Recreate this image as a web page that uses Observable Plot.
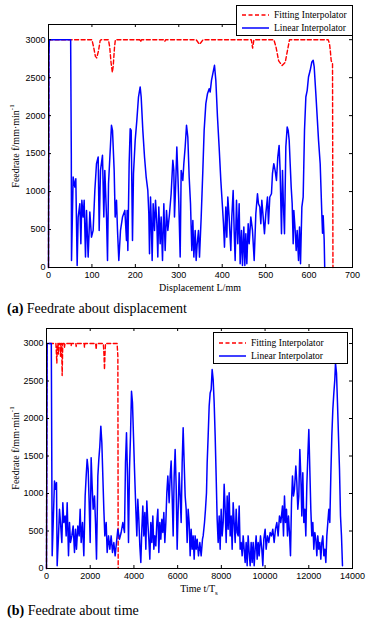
<!DOCTYPE html>
<html>
<head>
<meta charset="utf-8">
<script src="https://cdn.jsdelivr.net/npm/d3@7"></script>
<script src="https://cdn.jsdelivr.net/npm/@observablehq/plot@0.6"></script>
<style>
  html, body { margin: 0; padding: 0; background: #fff; }
  #root { position: relative; width: 368px; height: 622px; background: #fff; overflow: hidden; }
  .abs { position: absolute; }
  .serif { font-family: "Liberation Serif", "DejaVu Serif", serif; color: #000; }
  .ylab { font-size: 10px; white-space: nowrap; transform: translate(-50%, -50%) rotate(-90deg); }
  .xlab { font-size: 10px; white-space: nowrap; transform: translate(-50%, -50%); }
  .cap { font-size: 14px; white-space: nowrap; }
  .legend { background: #fff; border: 1px solid #000; box-sizing: border-box; font-size: 9.5px; }
  .legend .row { position: absolute; display: flex; align-items: center; white-space: nowrap; }
  .legend svg { display: block; margin-right: 5px; }
  sup, sub { font-size: 7px; line-height: 0; }
</style>
</head>
<body>
<div id="root"></div>
<script>
// ---------- data ----------
const yTicks = [0, 500, 1000, 1500, 2000, 2500, 3000];
const dispTicks = [0, 100, 200, 300, 400, 500, 600, 700];
const timeTicks = [0, 2000, 4000, 6000, 8000, 10000, 12000, 14000];
const seriesNames = ["Fitting Interpolator", "Linear Interpolator"];

// (a) feedrate vs displacement [mm, mm/min]
const fitDisp = [[0,0],[1,3000],[100,3000],[104,2900],[108,2780],[111,2760],[115,2850],[119,2990],[121,3000],[138,3000],[141,2900],[144,2700],[147,2570],[149,2650],[152,2900],[154,3000],[210,3000],[212,2970],[214,3000],[266,3000],[268,2980],[270,3000],[340,3000],[345,2960],[348,2940],[352,2970],[356,3000],[467,3000],[470,2890],[473,3000],[519,3000],[524,2900],[530,2720],[538,2660],[545,2700],[550,2850],[555,3000],[644,3000],[647,2950],[649,2850],[651,2720],[654,2690],[655,0]];

const linDisp = [[0,0],[1,2800],[2,3000],[51,3000],[52.5,1500],[53,92],
[56.8,1191],[60.6,1059],[62.9,1169],[66,27],[68.3,664],[72.2,840],[74.5,312],[76.8,884],[79.8,664],[82.1,884],[85.2,137],[87.5,752],[91.3,137],[95.2,730],[99,400],[102.8,488],[106.7,1015],[110.5,1367],[114.4,1455],[116.7,488],[119.7,1279],[124.3,1477],[127.4,664],[129.7,1279],[133.6,664],[135.9,93],[138.2,1103],[141.3,1455],[145,1872],[147.4,1806],[151.2,1279],[153.5,664],[156.6,884],[158.9,488],[161.9,93],[165.8,488],[170.4,664],[175.8,752],[179.6,356],
[181.1,752],[182.7,225],[185.7,1367],[188.1,1828],[190.4,1806],[193.4,356],[195.7,1235],[199.6,1674],[203.4,1938],[207.2,2245],[211.1,2377],[213.4,2245],[217.2,1806],[221.1,1455],[224.9,1191],[228.7,1015],[231,708],[232.6,181],[234.9,928],[236.4,664],[238.7,93],[241,840],[244.1,488],[246.4,884],[249.5,576],[251.7,137],[254,796],[257.1,312],[259.4,664],[262.5,93],[265.6,840],[268.6,225],[271.7,752],[274.8,488],[278.6,708],[282.4,971],[286.3,1411],[288.6,1279],[290.1,664],[292.4,1015],[295.5,1586],[297.8,1235],[300.1,840],[303.2,137],[305.5,1279],[309.3,1147],[311.6,1367],[314.7,1586],[317.8,1872],[320.8,1718],[323.9,1191],[327,840],[330,225],[332.4,620],[334.7,137],[337.8,488],[340,93],[342.4,312],[345.4,488],[347.7,137],[351.6,664],[355.4,1279],[358.4,1806],
[362.3,2158],[366.1,2289],[370,2355],[372.3,2311],[375.3,2465],[379.9,2597],[382.2,2663],[385.3,2465],[389.1,1982],[392.9,1586],[396.8,1147],[400.6,796],[402.9,576],[405.2,268],[408.3,796],[410.6,400],[412.9,928],[415.9,664],[419.8,225],[422.1,664],[425.2,1015],[427.5,488],[429.8,93],[432.9,884],[435.9,312],[439,840],[441.3,49],[444.4,488],[446.7,27],[449.8,532],[452.1,27],[454.4,444],[456.7,49],[459.8,576],[462.1,312],[465.9,664],[469.7,488],[473.6,93],[477.4,708],[481.2,971],[483.5,840],[486.6,796],[488.9,576],[491.2,884],[494.3,664],[497.3,444],[500.4,708],[504.2,928],[506.5,576],[509.6,928],[513.4,971],[515.7,1235],[518.8,1367],[521.8,1279],[524.9,1147],[528,1455],[531,1608],[533.3,1279],[536.5,444],[538.8,1279],[541.1,796],[543.4,444],[546.5,1586],[549.6,1850],[551.9,1806],[554.2,1674],[556.5,1367],[558.8,1059],[561.1,840],[563.4,312],[564.9,752],[568,488],[570.3,225],[572.6,488],[575.7,93],[578,532],[580.3,49],[583.4,796],[586.4,928],[589.5,1806],[592.6,2245],[595.7,2333],[598.7,2509],[602.6,2597],[606.4,2707],[609.5,2729],[611.8,2641],[615.6,2289],[618.7,1982],[621.8,1674],[625.6,1367],[629.4,700],[631,450],[632.5,680],[634.8,356],[636,0]];

// (b) feedrate vs time [t/Ts, mm/min]
const fitTime = [[0,0],[20,3000],[430,3000],[455,2850],[473,2740],[490,2950],[520,3000],[540,2920],[549,2860],[560,3000],[620,3000],[641,2830],[660,3000],[690,3000],[705,2780],[717,2572],[730,2780],[745,3000],[805,3000],[824,2950],[845,3000],[1110,3000],[1128,2970],[1145,3000],[1340,3000],[1357,2960],[1375,3000],[1720,3000],[1738,2950],[1755,3000],[2250,3000],[2272,2920],[2290,3000],[2600,3000],[2630,2850],[2653,2652],[2675,2850],[2700,3000],[3230,3000],[3250,2900],[3265,2830],[3280,0]];

const linTime = [[0,0],[30,3000],[220,3000],[260,170],
[366,1167],[412,1056],[458,1145],[488,36],[549,435],[595,790],[641,613],[702,347],[747,878],[793,613],[854,701],[900,435],[946,878],[1007,169],[1052,613],[1098,347],[1159,435],[1220,568],[1281,214],[1327,524],[1372,258],[1433,568],[1494,435],[1540,790],[1586,347],[1647,613],[1708,169],[1769,967],[1815,1233],[1860,1455],[1906,1322],[1952,878],[1998,347],[2043,1477],[2089,1100],[2135,790],[2196,967],[2242,613],[2288,125],[2349,1233],[2394,1455],[2440,1632],[2486,1898],[2532,1676],[2577,1233],[2623,790],[2669,435],[2730,613],[2776,214],[2837,435],[2898,258],[2958,435],[3019,214],[3080,347],[3141,169],[3202,347],[3263,524],[3340,391],[3416,480],[3492,613],[3568,480],
[3614,1411],[3660,1809],[3706,1233],[3752,347],[3797,1322],[3843,1765],[3889,2364],[3934,2208],[3980,1765],[4026,1322],[4087,790],[4133,435],[4178,923],[4224,657],[4270,302],[4316,80],[4362,524],[4407,834],[4453,435],[4499,746],[4545,258],[4590,901],[4636,613],[4682,391],[4728,125],[4773,613],[4819,347],[4865,701],[4911,258],[4956,435],[5002,302],[5048,613],[5094,790],[5139,214],[5185,613],[5231,391],[5277,657],[5322,480],[5368,746],[5414,347],[5460,613],[5505,1011],[5551,1233],[5612,878],[5658,1233],[5703,1433],[5749,967],[5795,435],[5841,1233],[5886,1588],[5932,1100],[5978,258],[6024,790],[6069,1277],[6115,967],[6161,613],[6207,1411],[6252,1876],[6298,1411],[6344,967],[6390,790],[6435,347],[6481,790],[6527,613],[6573,169],[6618,524],[6664,258],[6710,435],[6756,125],[6801,435],[6847,258],[6893,391],[6954,169],[7015,347],[7076,169],[7137,391],
[7168,435],[7229,613],[7274,790],[7320,1011],[7351,1411],[7396,1765],[7442,2164],[7488,2341],[7534,2386],[7579,2652],[7625,2519],[7671,2208],[7717,1765],[7762,1233],[7808,657],[7854,347],[7900,701],[7945,258],[7991,790],[8037,435],[8083,613],[8128,1122],[8174,790],[8220,347],[8266,967],[8311,524],[8357,1011],[8403,435],[8449,701],[8494,258],[8540,878],[8586,613],[8632,347],[8678,790],[8723,480],[8769,435],[8815,834],[8860,258],[8906,347],[8952,169],[8998,435],[9043,258],[9089,80],[9135,347],[9180,36],[9226,435],[9272,214],[9318,36],[9363,347],[9409,80],[9455,347],[9501,36],[9546,258],[9592,435],[9638,125],[9684,347],[9729,169],[9790,435],[9851,258],[9897,36],[9943,391],[10004,524],[10049,258],[10110,435],[10171,347],[10232,480],[10293,435],[10354,524],[10415,347],[10476,524],[10537,613],[10598,435],[10659,701],[10720,613],
[10751,701],[10797,834],[10843,435],[10888,967],[10934,613],[10980,790],[11026,435],[11071,701],[11117,480],[11163,169],[11209,878],[11254,1233],[11300,967],[11346,1056],[11407,1366],[11453,1145],[11498,790],[11544,967],[11590,1588],[11636,1233],[11681,701],[11727,1277],[11773,613],[11819,790],[11864,435],[11910,1100],[11956,1499],[12002,1854],[12047,1322],[12093,790],[12139,435],[12185,613],[12230,258],[12276,480],[12322,391],[12368,169],[12413,435],[12459,258],[12505,347],[12551,125],[12596,347],[12642,435],[12688,169],[12734,258],[12780,80],[12825,435],[12871,613],[12917,790],[12962,613],[13008,1233],[13054,1765],[13100,2120],[13146,2341],[13191,2519],[13222,2740],[13268,2607],[13313,2208],[13359,1765],[13405,1322],[13451,701],[13496,435],[13542,36]];

// ---------- drawing ----------
const root = document.getElementById("root");
const RED = "#ff0000", BLUE = "#0000ff";

function panel({fit, lin, xDomain, xTicks, top, height, mt, mb, ml, mr}) {
  const W = 368;
  const pw = W - ml - mr, ph = height - mt - mb;
  const chart = Plot.plot({
    width: W, height,
    marginTop: mt, marginBottom: mb, marginLeft: ml, marginRight: mr,
    style: {fontFamily: "'Liberation Sans', Arial, sans-serif", fontSize: "9px", background: "transparent", color: "#000"},
    x: {domain: xDomain, label: null},
    y: {domain: [0, 3200], label: null},
    marks: [
      Plot.line(fit, {x: d => d[0], y: d => d[1], stroke: RED, strokeWidth: 1.4, strokeDasharray: "4,2.5"}),
      Plot.line(lin, {x: d => d[0], y: d => d[1], stroke: BLUE, strokeWidth: 1.5}),
      Plot.frame({stroke: "#000", strokeWidth: 1}),
      Plot.tickX(xTicks, {x: d => d, insetTop: ph - 3, stroke: "#000"}),
      Plot.tickX(xTicks, {x: d => d, insetBottom: ph - 3, stroke: "#000"}),
      Plot.tickY(yTicks, {y: d => d, insetRight: pw - 3, stroke: "#000"}),
      Plot.tickY(yTicks, {y: d => d, insetLeft: pw - 3, stroke: "#000"}),
      Plot.axisX(xTicks, {tickSize: 0, tickPadding: 4, label: null, tickFormat: d => String(d)}),
      Plot.axisY(yTicks, {tickSize: 0, tickPadding: 3, label: null, tickFormat: d => String(d)})
    ]
  });
  chart.style.position = "absolute";
  chart.style.left = "0px";
  chart.style.top = top + "px";
  root.appendChild(chart);
}

panel({fit: fitDisp, lin: linDisp, xDomain: [0, 700], xTicks: dispTicks, top: 0, height: 300, mt: 24, mb: 33, ml: 48, mr: 16});
panel({fit: fitTime, lin: linTime, xDomain: [0, 14000], xTicks: timeTicks, top: 318, height: 282, mt: 10, mb: 32, ml: 46, mr: 16});

function addHTML(html) { root.insertAdjacentHTML("beforeend", html); }

function legend(left, top, w, h, lineX) {
  const sw = `<svg width="27" height="6"><line x1="0" y1="3" x2="27" y2="3" stroke="${RED}" stroke-width="1.4" stroke-dasharray="4,2.5"/></svg>`;
  const sb = `<svg width="27" height="6"><line x1="0" y1="3" x2="27" y2="3" stroke="${BLUE}" stroke-width="1.5"/></svg>`;
  addHTML(`<div class="abs legend serif" style="left:${left}px;top:${top}px;width:${w}px;height:${h}px;">
    <div class="row" style="left:${lineX}px;top:${h*0.3 - 6}px;height:12px;">${sw}<span>${seriesNames[0]}</span></div>
    <div class="row" style="left:${lineX}px;top:${h*0.75 - 7}px;height:12px;">${sb}<span>${seriesNames[1]}</span></div>
  </div>`);
}
legend(236, 5, 117, 31, 5);
legend(213, 332, 135, 32, 5);

// axis titles
addHTML(`<div class="abs serif ylab" style="left:15px;top:146px;">Feedrate f/mm·min<sup>-1</sup></div>`);
addHTML(`<div class="abs serif xlab" style="left:200px;top:287px;">Displacement L/mm</div>`);
addHTML(`<div class="abs serif ylab" style="left:15px;top:448px;">Feedrate f/mm·min<sup>-1</sup></div>`);
addHTML(`<div class="abs serif xlab" style="left:199px;top:588px;">Time t/T<sub>s</sub></div>`);

// captions
addHTML(`<div class="abs serif cap" style="left:7px;top:301px;"><b>(a)</b> Feedrate about displacement</div>`);
addHTML(`<div class="abs serif cap" style="left:7px;top:603px;"><b>(b)</b> Feedrate about time</div>`);
</script>
</body>
</html>
